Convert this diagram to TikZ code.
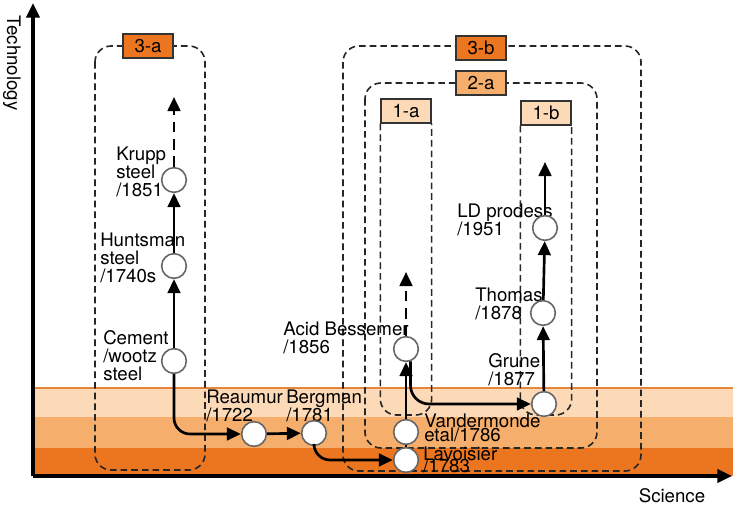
\documentclass[tikz,border=0pt]{standalone}
\usepackage{fontspec}
\setmainfont{TeX Gyre Heros}
\usepackage{xcolor}
\usetikzlibrary{arrows.meta,positioning}

\definecolor{bandlight}{HTML}{FCDAB8}
\definecolor{bandmid}{HTML}{F6AE6C}
\definecolor{banddark}{HTML}{EC7520}
\definecolor{bandedge}{HTML}{E5863A}

\begin{document}
\begin{tikzpicture}[x=0.75pt, y=-0.75pt,
    event/.style={circle, draw=black!60, fill=white, line width=1.2pt, minimum size=18.5pt, inner sep=0pt},
    txt/.style={anchor=north west, inner sep=0pt, align=left, font=\fontsize{14}{13.5}\selectfont},
    tag/.style={draw=black!80, line width=1pt, minimum width=37.5pt, minimum height=18pt, inner sep=0pt, font=\fontsize{14}{14}\selectfont},
    group/.style={draw=black!85, line width=1.2pt, dash pattern=on 5pt off 3pt, rounded corners=12pt},
    arrow/.style={-{Triangle[length=10.5pt,width=9.5pt]}, line width=2pt},
    link/.style={line width=2pt},
    axis/.style={-{Triangle[length=11pt,width=10pt]}, line width=2.3pt}]

    \useasboundingbox (0,0) rectangle (733,508);

    \fill[bandlight] (33,388) rectangle (733,417);
    \fill[bandmid] (33,417) rectangle (733,448);
    \fill[banddark] (33,448) rectangle (733,476);
    \draw[bandedge, line width=1pt] (33,388) -- (733,388);

    \coordinate (origin) at (33,476);
    \coordinate (ytop) at (33,3);
    \coordinate (xend) at (732,476);
    \draw[axis] (origin) -- (ytop);
    \draw[axis] (origin) -- (xend);
    \node[rotate=-90, font=\fontsize{14}{14}\selectfont] (techlbl) at (12,63) {Technology};
    \node[font=\fontsize{14}{14}\selectfont] (scilbl) at (672,496) {Science};

    \draw[group] (95,46) rectangle (205,470);
    \draw[group] (343,46) rectangle (641,471);
    \draw[group] (365,83) rectangle (597,448);

    \node[tag, fill=banddark] (t3a) at (148,46) {3-a};
    \node[tag, fill=banddark] (t3b) at (481,48) {3-b};
    \node[tag, fill=bandmid] (t2a) at (481,83) {2-a};
    \node[tag, fill=bandlight] (t1a) at (406,111) {1-a};
    \node[tag, fill=bandlight] (t1b) at (546,113) {1-b};

    \draw[group] (t1a.south west) -- (t1a.south west |- 0,415) -- (t1a.south east |- 0,415) -- (t1a.south east);
    \draw[group] (t1b.south west) -- (t1b.south west |- 0,415) -- (t1b.south east |- 0,415) -- (t1b.south east);

    \node[txt] (krupplbl) at (116,147) {Krupp\\steel\\/1851};
    \node[txt] (huntlbl) at (100,233) {Huntsman\\steel\\/1740s};
    \node[txt] (cementlbl) at (103,330) {Cement\\/wootz\\steel};
    \node[txt] (reaumurlbl) at (206,390) {Reaumur\\/1722};
    \node[txt] (bergmanlbl) at (286,390) {Bergman\\/1781};
    \node[txt] (acidlbl) at (283,322) {Acid Bessemer\\/1856};
    \node[txt] (vanderlbl) at (424,414) {Vandermonde\\[-3pt]etal/1786};
    \node[txt] (lavoislbl) at (423,447) {Lavoisier\\[-5pt]/1783};
    \node[txt] (grunelbl) at (488,353) {Grune\\/1877};
    \node[txt] (thomaslbl) at (475,288) {Thomas\\/1878};
    \node[txt] (ldlbl) at (457,204) {LD prodess\\/1951};

    \node[event] (cement) at (174,361) {};
    \node[event] (hunt) at (174,266) {};
    \node[event] (krupp) at (174,180) {};
    \node[event] (reaumur) at (254,434) {};
    \node[event] (bergman) at (314,433) {};
    \node[event] (lavoisier) at (406,460) {};
    \node[event] (vander) at (406,432) {};
    \node[event] (acid) at (406,349) {};
    \node[event] (grune) at (544,404) {};
    \node[event] (thomas) at (543,313) {};
    \node[event] (ld) at (545,228) {};
    \coordinate (kruppnext) at (174,97);
    \coordinate (acidnext) at (406,272);
    \coordinate (ldnext) at (545,162);

    \draw[arrow] (cement) -- (hunt);
    \draw[arrow] (hunt) -- (krupp);
    \draw[arrow, dash pattern=on 8pt off 5pt] (krupp) -- (kruppnext);
    \draw[arrow, rounded corners=12pt] (cement.south) |- (reaumur.west);
    \draw[arrow] (reaumur) -- (bergman);
    \draw[arrow, rounded corners=12pt] (bergman.south) |- (lavoisier.west);
    \draw[link] (lavoisier) -- (vander);
    \draw[arrow] (vander) -- (acid);
    \draw[arrow, dash pattern=on 8pt off 5pt] (acid) -- (acidnext);
    \draw[arrow, rounded corners=14pt] (acid.-70) |- (grune.west);
    \draw[arrow] (grune) -- (thomas);
    \draw[arrow] (thomas) -- (ld);
    \draw[arrow] (ld) -- (ldnext);
\end{tikzpicture}
\end{document}
